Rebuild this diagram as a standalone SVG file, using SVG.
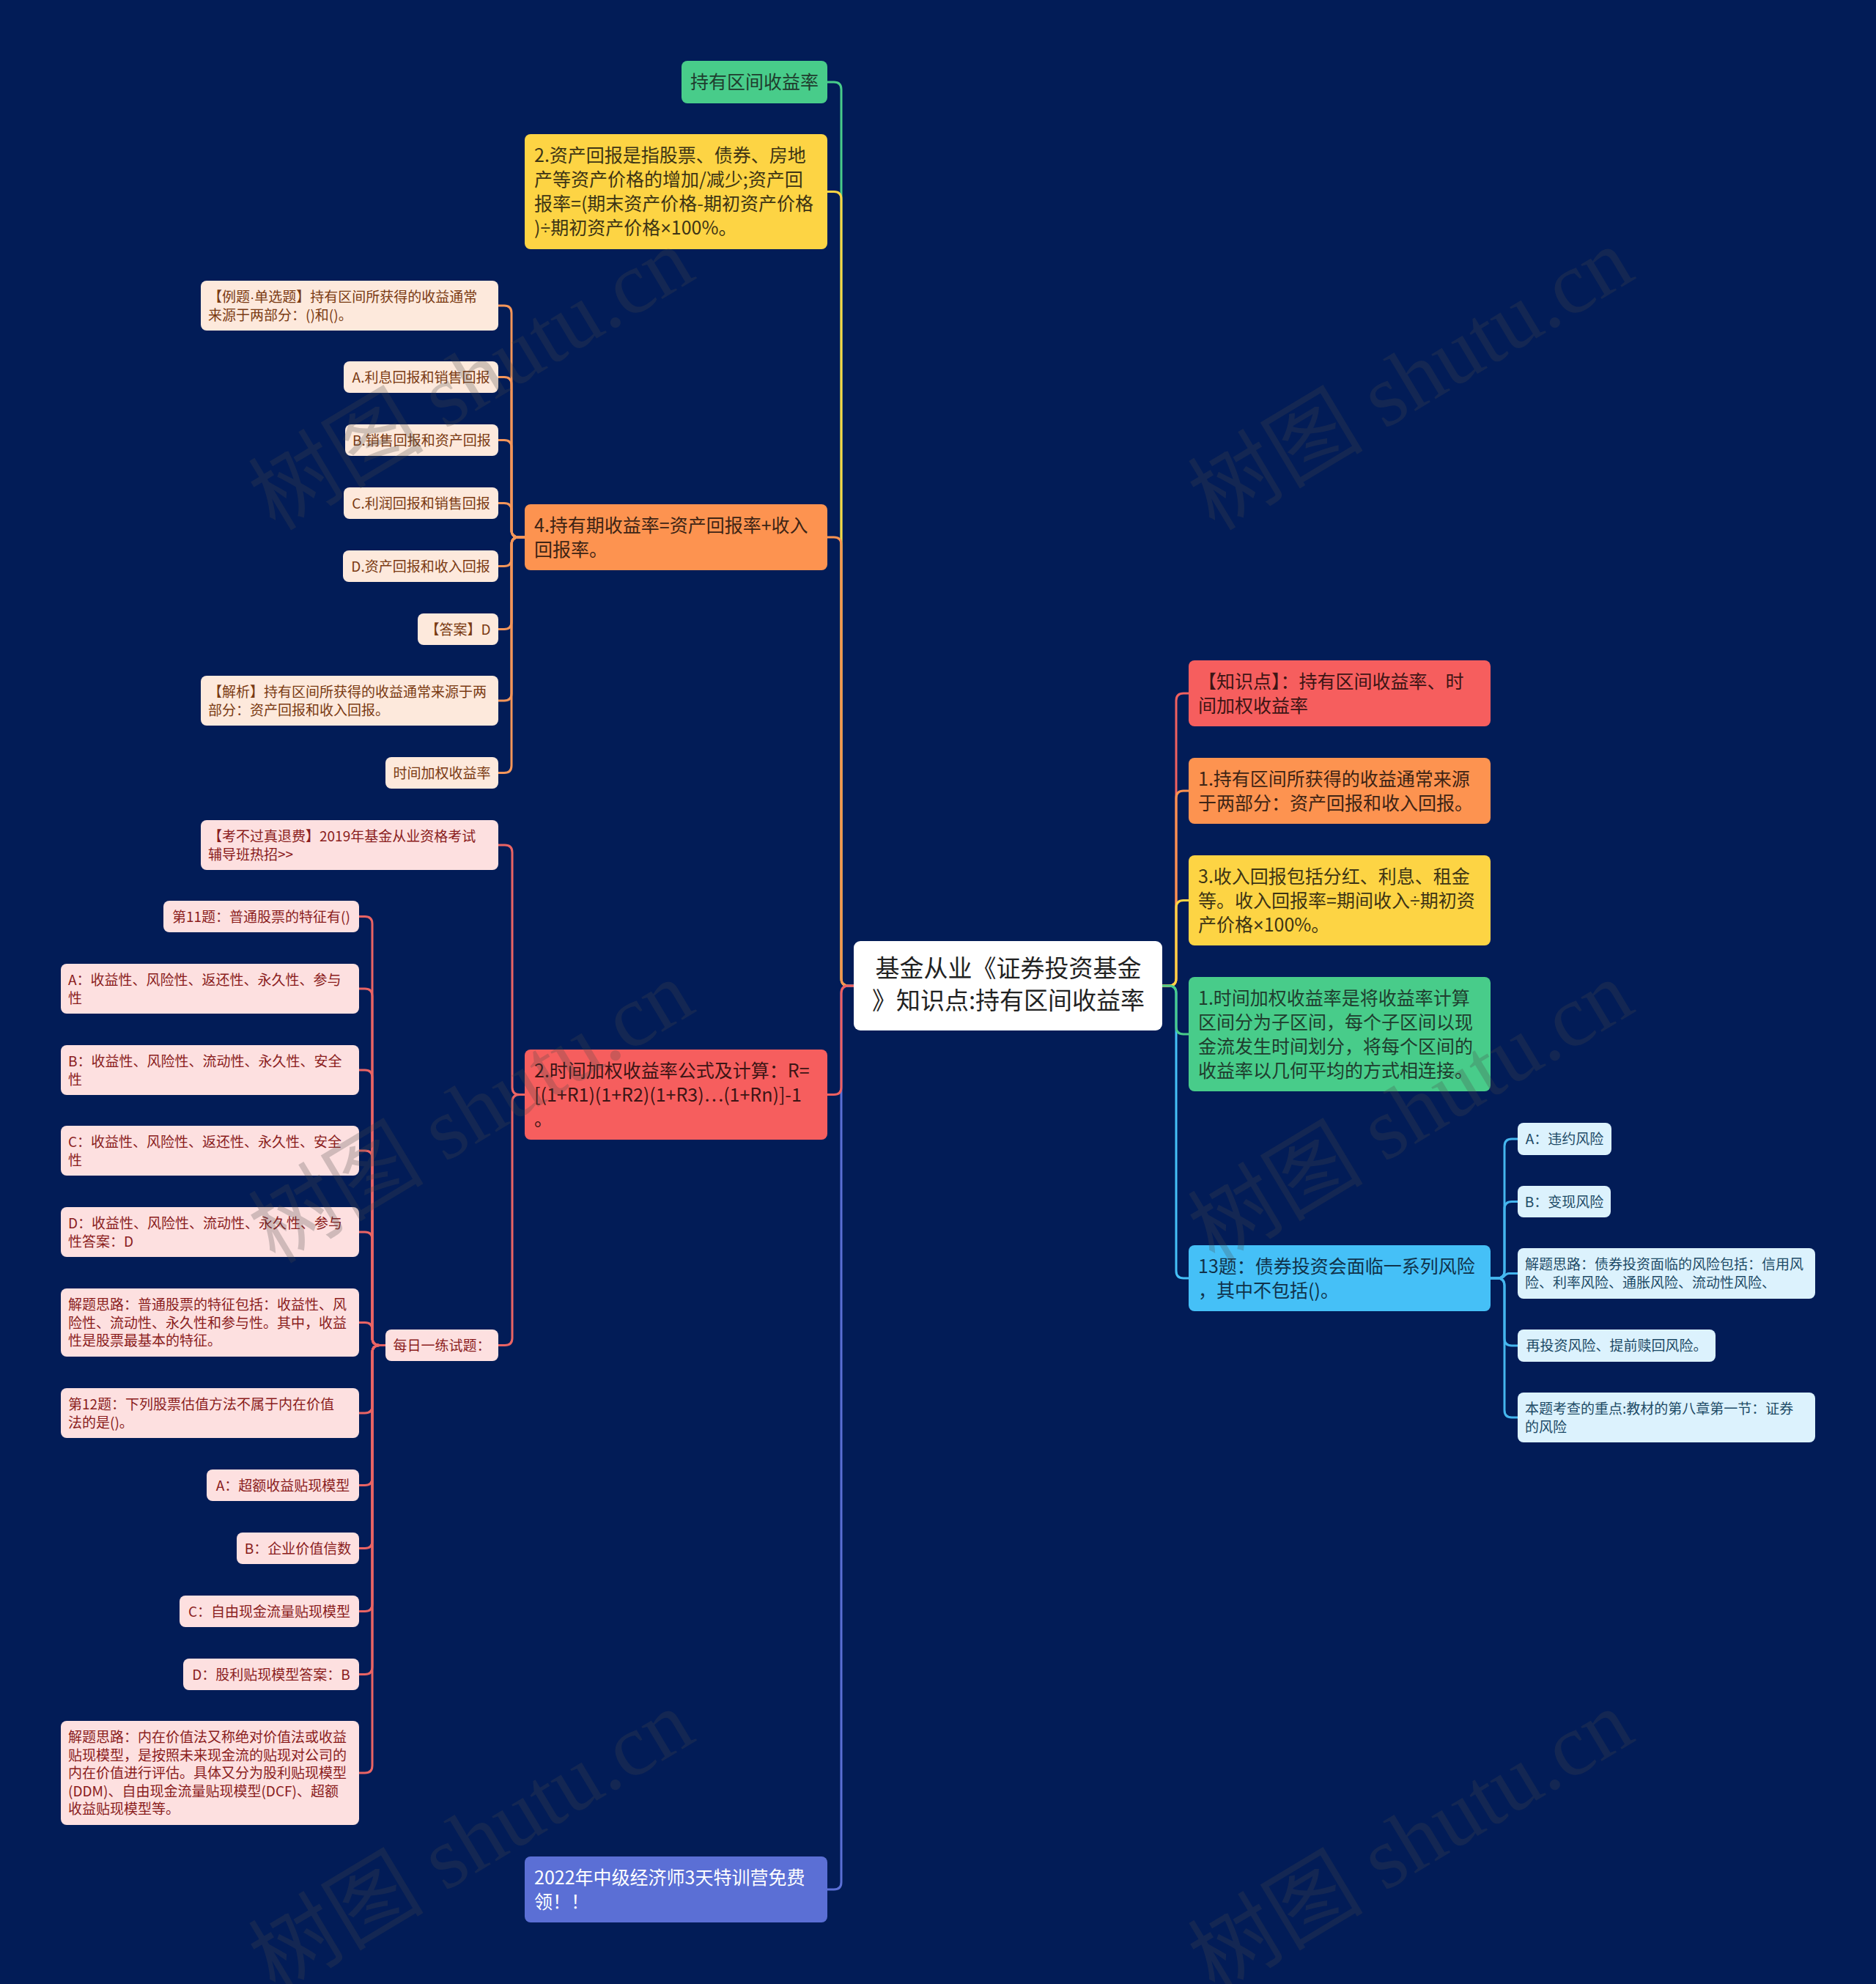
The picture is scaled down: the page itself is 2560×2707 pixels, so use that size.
<svg xmlns="http://www.w3.org/2000/svg" width="2560" height="2707" viewBox="0 0 2560 2707">
<style>
text{font-family:"Noto Sans CJK SC","Liberation Sans","Noto Sans",sans-serif}
.c{fill:none;stroke-width:3;stroke-linecap:round;stroke-linejoin:round}
.t1{font-size:25px}
.t2{font-size:19px}
.root{font-size:33px;fill:#222;text-anchor:middle}
.mid{text-anchor:middle}
.ls{font-family:"Liberation Sans",sans-serif}
.pe{fill:#fde9dc}.pe-t{fill:#7a3a12}
.pk{fill:#fde0e0}.pk-t{fill:#8a1c1c}
.lb{fill:#dcf2fd}.lb-t{fill:#1d4a66}
.wm{font-family:"Liberation Serif","Noto Sans CJK SC",serif;font-size:120px;fill:#4a4a4a;opacity:0.25}
</style>
<rect x="0" y="0" width="2560" height="2707" fill="#021c57"/>

<g id="connectors">
  <!-- root left main branches -->
  <path class="c" stroke="#48cc8a" d="M1165,1345 H1158 Q1148,1345 1148,1335 V122 Q1148,112 1138,112 H1129"/>
  <path class="c" stroke="#fdd444" d="M1165,1345 H1158 Q1148,1345 1148,1335 V271.5 Q1148,261.5 1138,261.5 H1129"/>
  <path class="c" stroke="#fd9350" d="M1165,1345 H1158 Q1148,1345 1148,1335 V743 Q1148,733 1138,733 H1129"/>
  <path class="c" stroke="#5b6fd5" d="M1165,1345 H1158 Q1148,1345 1148,1355 V2568 Q1148,2578 1138,2578 H1129"/>
  <path class="c" stroke="#f06060" d="M1165,1345 H1158 Q1148,1345 1148,1355 V1483.5 Q1148,1493.5 1138,1493.5 H1129"/>
  <!-- root right main branches -->
  <path class="c" stroke="#45c0f7" d="M1586,1345 H1595 Q1605,1345 1605,1355 V1734 Q1605,1744 1615,1744 H1622"/>
  <path class="c" stroke="#f06060" d="M1586,1345 H1595 Q1605,1345 1605,1335 V956 Q1605,946 1615,946 H1622"/>
  <path class="c" stroke="#fd9350" d="M1586,1345 H1595 Q1605,1345 1605,1335 V1089 Q1605,1079 1615,1079 H1622"/>
  <path class="c" stroke="#fdd444" d="M1586,1345 H1595 Q1605,1345 1605,1335 V1238.5 Q1605,1228.5 1615,1228.5 H1622"/>
  <path class="c" stroke="#48cc8a" d="M1586,1345 H1595 Q1605,1345 1605,1355 V1401 Q1605,1411 1615,1411 H1622"/>
  <!-- orange sub-branches -->
  <g stroke="#f4965a">
    <path class="c" d="M716,733 H708 Q698,733 698,723 V427 Q698,417 688,417 H680"/>
    <path class="c" d="M716,733 H708 Q698,733 698,723 V524.5 Q698,514.5 688,514.5 H680"/>
    <path class="c" d="M716,733 H708 Q698,733 698,723 V610.5 Q698,600.5 688,600.5 H680"/>
    <path class="c" d="M716,733 H708 Q698,733 698,723 V696.5 Q698,686.5 688,686.5 H680"/>
    <path class="c" d="M716,733 H708 Q698,733 698,743 V762.5 Q698,772.5 688,772.5 H680"/>
    <path class="c" d="M716,733 H708 Q698,733 698,743 V848.5 Q698,858.5 688,858.5 H680"/>
    <path class="c" d="M716,733 H708 Q698,733 698,743 V946 Q698,956 688,956 H680"/>
    <path class="c" d="M716,733 H708 Q698,733 698,743 V1044.5 Q698,1054.5 688,1054.5 H680"/>
  </g>
  <!-- red sub-branches -->
  <g stroke="#ea6464">
    <path class="c" d="M716,1493.5 H709 Q699,1493.5 699,1483.5 V1163 Q699,1153 689,1153 H680"/>
    <path class="c" d="M716,1493.5 H709 Q699,1493.5 699,1503.5 V1825.5 Q699,1835.5 689,1835.5 H680"/>
    <path class="c" d="M526,1835.5 H518 Q508,1835.5 508,1825.5 V1260.5 Q508,1250.5 498,1250.5 H490"/>
    <path class="c" d="M526,1835.5 H518 Q508,1835.5 508,1825.5 V1359 Q508,1349 498,1349 H490"/>
    <path class="c" d="M526,1835.5 H518 Q508,1835.5 508,1825.5 V1470 Q508,1460 498,1460 H490"/>
    <path class="c" d="M526,1835.5 H518 Q508,1835.5 508,1825.5 V1580 Q508,1570 498,1570 H490"/>
    <path class="c" d="M526,1835.5 H518 Q508,1835.5 508,1825.5 V1691 Q508,1681 498,1681 H490"/>
    <path class="c" d="M526,1835.5 H518 Q508,1835.5 508,1825.5 V1814.5 Q508,1804.5 498,1804.5 H490"/>
    <path class="c" d="M526,1835.5 H518 Q508,1835.5 508,1845.5 V1918 Q508,1928 498,1928 H490"/>
    <path class="c" d="M526,1835.5 H518 Q508,1835.5 508,1845.5 V2016.5 Q508,2026.5 498,2026.5 H490"/>
    <path class="c" d="M526,1835.5 H518 Q508,1835.5 508,1845.5 V2102.5 Q508,2112.5 498,2112.5 H490"/>
    <path class="c" d="M526,1835.5 H518 Q508,1835.5 508,1845.5 V2188.5 Q508,2198.5 498,2198.5 H490"/>
    <path class="c" d="M526,1835.5 H518 Q508,1835.5 508,1845.5 V2274.5 Q508,2284.5 498,2284.5 H490"/>
    <path class="c" d="M526,1835.5 H518 Q508,1835.5 508,1845.5 V2409 Q508,2419 498,2419 H490"/>
  </g>
  <!-- blue sub-branches -->
  <g stroke="#45b6ee">
    <path class="c" d="M2034,1744 H2043 Q2053,1744 2053,1734 V1564 Q2053,1554 2063,1554 H2071"/>
    <path class="c" d="M2034,1744 H2043 Q2053,1744 2053,1734 V1649.5 Q2053,1639.5 2063,1639.5 H2071"/>
    <path class="c" d="M2034,1744 H2047 C2053,1744 2053,1737.5 2059,1737.5 H2071"/>
    <path class="c" d="M2034,1744 H2043 Q2053,1744 2053,1754 V1826 Q2053,1836 2063,1836 H2071"/>
    <path class="c" d="M2034,1744 H2043 Q2053,1744 2053,1754 V1924 Q2053,1934 2063,1934 H2071"/>
  </g>
</g>

<!-- root -->
<g id="n-root">
  <rect x="1165" y="1284" width="421" height="122" rx="9" fill="#ffffff"/>
  <text class="root"><tspan x="1376" y="1333">基金从业《证券投资基金</tspan><tspan x="1376" y="1377">》知识点:持有区间收益率</tspan></text>
</g>

<!-- left main nodes -->
<g id="n-l-holding">
  <rect x="930" y="83" width="199" height="58" rx="8" fill="#48cc8a"/>
  <text class="t1 mid" fill="#1f3d2e" x="1029.5" y="121">持有区间收益率</text>
</g>
<g id="n-l-asset">
  <rect x="716" y="183" width="413" height="157" rx="8" fill="#fdd444"/>
  <text class="t1" fill="#3d3415"><tspan x="729" y="221">2.资产回报是指股票、债券、房地</tspan><tspan x="729" y="254">产等资产价格的增加/减少;资产回</tspan><tspan x="729" y="287">报率=(期末资产价格-期初资产价格</tspan><tspan x="729" y="320">)<tspan class="ls">÷</tspan>期初资产价格<tspan class="ls">×</tspan>100%。</tspan></text>
</g>
<g id="n-l-period">
  <rect x="716" y="688" width="413" height="90" rx="8" fill="#fd9350"/>
  <text class="t1" fill="#3d2415"><tspan x="729" y="726">4.持有期收益率=资产回报率+收入</tspan><tspan x="729" y="759">回报率。</tspan></text>
</g>
<g id="n-l-twr">
  <rect x="716" y="1432" width="413" height="123" rx="8" fill="#f65e5e"/>
  <text class="t1" fill="#3d1515"><tspan x="729" y="1470">2.时间加权收益率公式及计算：R=</tspan><tspan x="729" y="1503">[(1+R1)(1+R2)(1+R3)⋯(1+Rn)]-1</tspan><tspan x="729" y="1536">。</tspan></text>
</g>
<g id="n-l-ad">
  <rect x="716" y="2533" width="413" height="90" rx="8" fill="#5b6fd5"/>
  <text class="t1" fill="#ffffff"><tspan x="729" y="2571">2022年中级经济师3天特训营免费</tspan><tspan x="729" y="2604">领！！</tspan></text>
</g>

<!-- right main nodes -->
<g id="n-r-point">
  <rect x="1622" y="901" width="412" height="90" rx="8" fill="#f65e5e"/>
  <text class="t1" fill="#3d1515"><tspan x="1635" y="939">【知识点】：持有区间收益率、时</tspan><tspan x="1635" y="972">间加权收益率</tspan></text>
</g>
<g id="n-r-source">
  <rect x="1622" y="1034" width="412" height="90" rx="8" fill="#fd9350"/>
  <text class="t1" fill="#3d2415"><tspan x="1635" y="1072">1.持有区间所获得的收益通常来源</tspan><tspan x="1635" y="1105">于两部分：资产回报和收入回报。</tspan></text>
</g>
<g id="n-r-income">
  <rect x="1622" y="1167" width="412" height="123" rx="8" fill="#fdd444"/>
  <text class="t1" fill="#3d3415"><tspan x="1635" y="1205">3.收入回报包括分红、利息、租金</tspan><tspan x="1635" y="1238">等。收入回报率=期间收入<tspan class="ls">÷</tspan>期初资</tspan><tspan x="1635" y="1271">产价格<tspan class="ls">×</tspan>100%。</tspan></text>
</g>
<g id="n-r-twr">
  <rect x="1622" y="1333" width="412" height="156" rx="8" fill="#48cc8a"/>
  <text class="t1" fill="#1f3d2e"><tspan x="1635" y="1371">1.时间加权收益率是将收益率计算</tspan><tspan x="1635" y="1404">区间分为子区间，每个子区间以现</tspan><tspan x="1635" y="1437">金流发生时间划分，将每个区间的</tspan><tspan x="1635" y="1470">收益率以几何平均的方式相连接。</tspan></text>
</g>
<g id="n-r-q13">
  <rect x="1622" y="1699" width="412" height="90" rx="8" fill="#45c0f7"/>
  <text class="t1" fill="#10324a"><tspan x="1635" y="1737">13题：债券投资会面临一系列风险</tspan><tspan x="1635" y="1770">，其中不包括()。</tspan></text>
</g>

<!-- orange sub nodes -->
<g id="n-o-q">
  <rect class="pe" x="274" y="383" width="406" height="68" rx="8"/>
  <text class="t2 pe-t"><tspan x="284" y="412">【例题<tspan class="ls">·</tspan>单选题】持有区间所获得的收益通常</tspan><tspan x="284" y="436.5">来源于两部分：()和()。</tspan></text>
</g>
<g id="n-o-a">
  <rect class="pe" x="469" y="493" width="211" height="43" rx="8"/>
  <text class="t2 pe-t mid" x="574.5" y="522">A.利息回报和销售回报</text>
</g>
<g id="n-o-b">
  <rect class="pe" x="471" y="579" width="209" height="43" rx="8"/>
  <text class="t2 pe-t mid" x="575.5" y="608">B.销售回报和资产回报</text>
</g>
<g id="n-o-c">
  <rect class="pe" x="469" y="665" width="211" height="43" rx="8"/>
  <text class="t2 pe-t mid" x="574.5" y="694">C.利润回报和销售回报</text>
</g>
<g id="n-o-d">
  <rect class="pe" x="468" y="751" width="212" height="43" rx="8"/>
  <text class="t2 pe-t mid" x="574" y="780">D.资产回报和收入回报</text>
</g>
<g id="n-o-ans">
  <rect class="pe" x="570" y="837" width="110" height="43" rx="8"/>
  <text class="t2 pe-t mid" x="625" y="866">【答案】D</text>
</g>
<g id="n-o-exp">
  <rect class="pe" x="274" y="922" width="406" height="68" rx="8"/>
  <text class="t2 pe-t"><tspan x="284" y="951">【解析】持有区间所获得的收益通常来源于两</tspan><tspan x="284" y="975.5">部分：资产回报和收入回报。</tspan></text>
</g>
<g id="n-o-twr">
  <rect class="pe" x="526" y="1033" width="154" height="43" rx="8"/>
  <text class="t2 pe-t mid" x="603" y="1062">时间加权收益率</text>
</g>

<!-- red sub nodes -->
<g id="n-p-refund">
  <rect class="pk" x="274" y="1119" width="406" height="68" rx="8"/>
  <text class="t2 pk-t"><tspan x="284" y="1148">【考不过真退费】2019年基金从业资格考试</tspan><tspan x="284" y="1172.5">辅导班热招&gt;&gt;</tspan></text>
</g>
<g id="n-p-daily">
  <rect class="pk" x="526" y="1814" width="154" height="43" rx="8"/>
  <text class="t2 pk-t mid" x="603" y="1843">每日一练试题：</text>
</g>
<g id="n-p-q11">
  <rect class="pk" x="223" y="1229" width="267" height="43" rx="8"/>
  <text class="t2 pk-t mid" x="356.5" y="1258">第11题：普通股票的特征有()</text>
</g>
<g id="n-p-q11a">
  <rect class="pk" x="83" y="1315" width="407" height="68" rx="8"/>
  <text class="t2 pk-t"><tspan x="93" y="1344">A：收益性、风险性、返还性、永久性、参与</tspan><tspan x="93" y="1368.5">性</tspan></text>
</g>
<g id="n-p-q11b">
  <rect class="pk" x="83" y="1426" width="407" height="68" rx="8"/>
  <text class="t2 pk-t"><tspan x="93" y="1455">B：收益性、风险性、流动性、永久性、安全</tspan><tspan x="93" y="1479.5">性</tspan></text>
</g>
<g id="n-p-q11c">
  <rect class="pk" x="83" y="1536" width="407" height="68" rx="8"/>
  <text class="t2 pk-t"><tspan x="93" y="1565">C：收益性、风险性、返还性、永久性、安全</tspan><tspan x="93" y="1589.5">性</tspan></text>
</g>
<g id="n-p-q11d">
  <rect class="pk" x="83" y="1647" width="407" height="68" rx="8"/>
  <text class="t2 pk-t"><tspan x="93" y="1676">D：收益性、风险性、流动性、永久性、参与</tspan><tspan x="93" y="1700.5">性答案：D</tspan></text>
</g>
<g id="n-p-q11e">
  <rect class="pk" x="83" y="1758" width="407" height="93" rx="8"/>
  <text class="t2 pk-t"><tspan x="93" y="1787">解题思路：普通股票的特征包括：收益性、风</tspan><tspan x="93" y="1811.5">险性、流动性、永久性和参与性。其中，收益</tspan><tspan x="93" y="1836">性是股票最基本的特征。</tspan></text>
</g>
<g id="n-p-q12">
  <rect class="pk" x="83" y="1894" width="407" height="68" rx="8"/>
  <text class="t2 pk-t"><tspan x="93" y="1923">第12题：下列股票估值方法不属于内在价值</tspan><tspan x="93" y="1947.5">法的是()。</tspan></text>
</g>
<g id="n-p-q12a">
  <rect class="pk" x="282" y="2005" width="208" height="43" rx="8"/>
  <text class="t2 pk-t mid" x="386" y="2034">A：超额收益贴现模型</text>
</g>
<g id="n-p-q12b">
  <rect class="pk" x="323" y="2091" width="167" height="43" rx="8"/>
  <text class="t2 pk-t mid" x="406.5" y="2120">B：企业价值信数</text>
</g>
<g id="n-p-q12c">
  <rect class="pk" x="245" y="2177" width="245" height="43" rx="8"/>
  <text class="t2 pk-t mid" x="367.5" y="2206">C：自由现金流量贴现模型</text>
</g>
<g id="n-p-q12d">
  <rect class="pk" x="250" y="2263" width="240" height="43" rx="8"/>
  <text class="t2 pk-t mid" x="370" y="2292">D：股利贴现模型答案：B</text>
</g>
<g id="n-p-q12e">
  <rect class="pk" x="83" y="2348" width="407" height="142" rx="8"/>
  <text class="t2 pk-t"><tspan x="93" y="2377">解题思路：内在价值法又称绝对价值法或收益</tspan><tspan x="93" y="2401.5">贴现模型，是按照未来现金流的贴现对公司的</tspan><tspan x="93" y="2426">内在价值进行评估。具体又分为股利贴现模型</tspan><tspan x="93" y="2450.5">(DDM)、自由现金流量贴现模型(DCF)、超额</tspan><tspan x="93" y="2475">收益贴现模型等。</tspan></text>
</g>

<!-- blue sub nodes -->
<g id="n-b-a">
  <rect class="lb" x="2071" y="1532" width="128" height="44" rx="8"/>
  <text class="t2 lb-t mid" x="2135" y="1561">A：违约风险</text>
</g>
<g id="n-b-b">
  <rect class="lb" x="2071" y="1618" width="127" height="43" rx="8"/>
  <text class="t2 lb-t mid" x="2134.5" y="1647">B：变现风险</text>
</g>
<g id="n-b-exp">
  <rect class="lb" x="2071" y="1703" width="406" height="69" rx="8"/>
  <text class="t2 lb-t"><tspan x="2081" y="1732">解题思路：债券投资面临的风险包括：信用风</tspan><tspan x="2081" y="1756.5">险、利率风险、通胀风险、流动性风险、</tspan></text>
</g>
<g id="n-b-re">
  <rect class="lb" x="2071" y="1814" width="270" height="44" rx="8"/>
  <text class="t2 lb-t mid" x="2206" y="1843">再投资风险、提前赎回风险。</text>
</g>
<g id="n-b-key">
  <rect class="lb" x="2071" y="1900" width="406" height="68" rx="8"/>
  <text class="t2 lb-t"><tspan x="2081" y="1929">本题考查的重点:教材的第八章第一节：证券</tspan><tspan x="2081" y="1953.5">的风险</tspan></text>
</g>

<!-- watermarks -->
<g id="watermarks">
  <text class="wm" text-anchor="middle" transform="translate(664,552) rotate(-31)">树图 shutu.cn</text>
  <text class="wm" text-anchor="middle" transform="translate(1946,552) rotate(-31)">树图 shutu.cn</text>
  <text class="wm" text-anchor="middle" transform="translate(664,1552) rotate(-31)">树图 shutu.cn</text>
  <text class="wm" text-anchor="middle" transform="translate(1946,1552) rotate(-31)">树图 shutu.cn</text>
  <text class="wm" text-anchor="middle" transform="translate(664,2547) rotate(-31)">树图 shutu.cn</text>
  <text class="wm" text-anchor="middle" transform="translate(1946,2547) rotate(-31)">树图 shutu.cn</text>
</g>
</svg>
